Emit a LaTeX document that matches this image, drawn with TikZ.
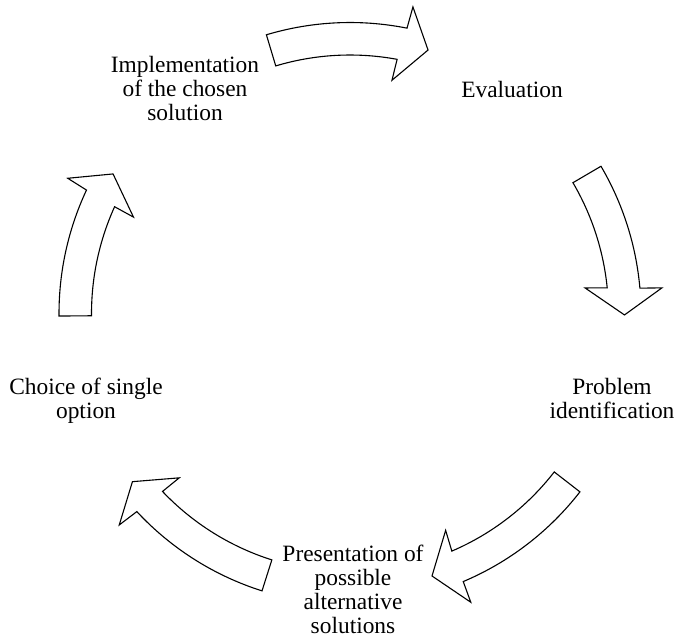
\documentclass[tikz,border=0pt]{standalone}
\usepackage{fontspec}
\setmainfont{Liberation Serif}
\begin{document}
\begin{tikzpicture}[x=0.5pt,y=-0.5pt]
  \useasboundingbox (0,0) rectangle (679,638);
  \draw[align=center,anchor=base,inner sep=0pt,font=\fontsize{11.7}{12}\selectfont]
    (185,120) node (impl){Implementation\\of the chosen\\solution}
    (512,97) node (eval){Evaluation}
    (612,418) node (prob){Problem\\identification}
    (353,633) node (pres){Presentation of\\possible\\alternative\\solutions}
    (86,418) node (choice){Choice of single\\option};
  \begin{scope}[shift={(350,313.5)},x=0.5pt,y=0.5pt,line width=0.55pt]
    % top
    \draw (106.7:291) arc[start angle=106.7,end angle=78.7,radius=291] -- (78.4:313)
      -- (73.5:274.8) -- (79.8:237) -- (79.5:258.5)
      arc[start angle=79.5,end angle=106.7,radius=258.5] -- cycle;
    % right
    \draw (30.4:291) arc[start angle=30.4,end angle=5.0,radius=291] -- (4.7:313)
      -- (-0.3:274.5) -- (6.2:236.5) -- (5.7:258.5)
      arc[start angle=5.7,end angle=30.4,radius=258.5] -- cycle;
    % bottom right
    \draw (-37.8:291) arc[start angle=-37.8,end angle=-67.1,radius=291] -- (-67.3:313)
      -- (-72.65:275) -- (-66.2:237) -- (-66.8:258.5)
      arc[start angle=-66.8,end angle=-37.8,radius=258.5] -- cycle;
    % bottom left
    \draw (252.4:291) arc[start angle=252.4,end angle=222.9,radius=291] -- (222.5:313)
      -- (217.7:275) -- (223.9:237) -- (223.5:258.5)
      arc[start angle=223.5,end angle=252.4,radius=258.5] -- cycle;
    % left
    \draw (180.5:291) arc[start angle=180.5,end angle=154.9,radius=291] -- (154.4:313)
      -- (149.5:275) -- (156.0:237) -- (155.6:258.5)
      arc[start angle=155.6,end angle=180.5,radius=258.5] -- cycle;
  \end{scope}
\end{tikzpicture}
\end{document}
